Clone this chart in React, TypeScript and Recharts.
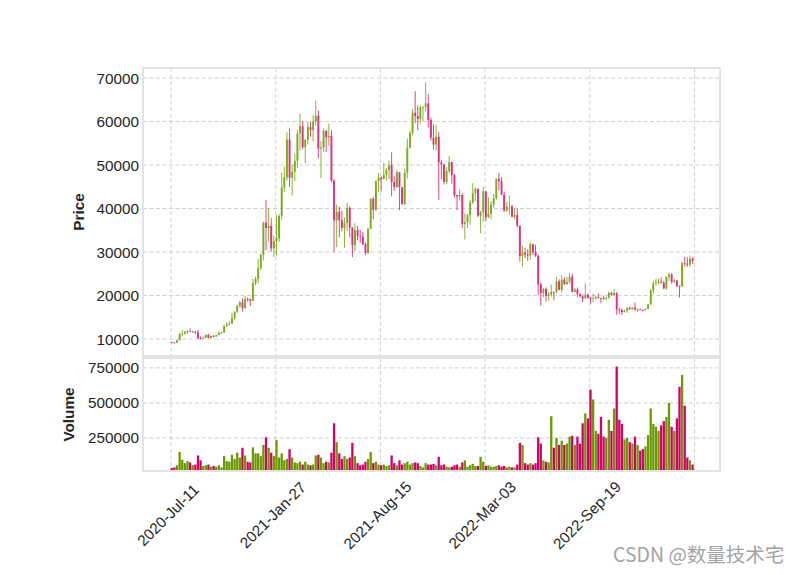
import React from 'react';
import { ComposedChart, Bar, XAxis, YAxis, CartesianGrid } from 'recharts';

// 5-day OHLCV candles of BTC, from 2020-Jul-11 (day 0) to 2023-Apr-06 (day 999)
const periodLength = 5;
const opens = [
  9230, 9195, 9160, 9710, 11110, 11190, 11680, 11770, 11750, 11750,
  11500, 10170, 10130, 10330, 10930, 10240, 10690, 10550, 10920, 11430,
  11500, 12930, 13280, 13550, 14840, 16280, 17660, 18420, 17140, 19230,
  19170, 18800, 22800, 23820, 26280, 29330, 36760, 35540, 36020, 30830,
  32500, 33110, 38290, 44840, 47180, 55840, 47070, 48440, 50970, 57220,
  58910, 54080, 55820, 58720, 58020, 60000, 61330, 53790, 54030, 57830,
  56390, 56700, 46430, 37280, 39240, 37340, 35520, 36690, 40140, 35600,
  31590, 35040, 33690, 33520, 31780, 29790, 35400, 42240, 39740, 46290,
  47100, 46760, 47710, 48810, 49940, 46080, 44960, 48310, 44880, 41030,
  48200, 53970, 57370, 62010, 61290, 60590, 63220, 63300, 64150, 60370,
  56280, 54720, 56480, 50590, 50100, 46130, 48620, 50700, 47720, 43080,
  42740, 43110, 36450, 36840, 38480, 41380, 43510, 44540, 38370, 39220,
  43920, 37990, 38810, 40920, 42360, 46820, 46280, 43170, 39530, 40380,
  40480, 38110, 38470, 36010, 29100, 29860, 29430, 29200, 31790, 29910,
  29090, 22580, 20570, 21500, 19930, 20190, 20850, 20830, 23220, 21310,
  23640, 22620, 23150, 24300, 20830, 21370, 20290, 19830, 19320, 20170,
  19420, 19290, 19410, 19630, 19420, 19380, 19330, 19570, 20600, 20150,
  20590, 16810, 16690, 16220, 16440, 17100, 16840, 17210, 16780, 16820,
  16700, 16620, 16950, 17940, 21190, 22780, 23010, 23130, 22930, 21630,
  24330, 24840, 23160, 23470, 22200, 22140, 27420, 27300, 27140, 28450,
];
const highs = [
  9350, 9230, 9760, 11420, 12120, 11900, 12080, 12480, 11880, 11800,
  12080, 10600, 10600, 11100, 11180, 10800, 10900, 10960, 11720, 11600,
  13220, 13850, 14100, 15970, 16340, 17860, 18800, 19420, 19890, 19600,
  19300, 23800, 24300, 28400, 29600, 36940, 41950, 40100, 37850, 33800,
  38500, 38700, 48200, 49700, 57500, 58350, 50200, 52640, 58150, 61800,
  60100, 55900, 59800, 60000, 61500, 64850, 62500, 55500, 58450, 58000,
  59500, 58000, 46650, 40900, 40400, 39480, 38000, 41300, 40500, 35750,
  36600, 35950, 35100, 34600, 32250, 35400, 42300, 42600, 46460, 48150,
  47380, 50500, 49350, 51000, 52920, 47400, 48850, 48400, 45000, 49200,
  56100, 57840, 62900, 67000, 63700, 63700, 63500, 69000, 66300, 60900,
  59400, 59200, 57600, 51200, 50100, 49500, 52100, 50700, 47990, 43150,
  44400, 43500, 38900, 38700, 41900, 45820, 44800, 44600, 39500, 45000,
  44100, 42600, 41700, 43350, 46900, 48190, 47200, 43900, 41550, 42980,
  40800, 40000, 40000, 36100, 31500, 31000, 30650, 32200, 31900, 31700,
  29450, 22950, 21720, 21870, 20750, 22500, 20900, 24280, 23750, 24670,
  24200, 24250, 25210, 25000, 21800, 21820, 20580, 20180, 22800, 20500,
  19700, 20380, 20000, 20470, 19500, 19950, 19700, 20850, 20850, 21480,
  20700, 17200, 17000, 16770, 17320, 17420, 17300, 18390, 17060, 16960,
  16780, 16990, 17990, 21440, 23370, 23820, 23960, 24250, 23350, 24380,
  25250, 25130, 23900, 23500, 22300, 27750, 28870, 28800, 29190, 28800,
];
const lows = [
  9120, 9050, 9150, 9700, 10600, 11100, 11150, 11680, 11380, 11120,
  10000, 9880, 10100, 10270, 10140, 10200, 10380, 10530, 10900, 11230,
  11400, 12900, 13200, 13530, 14350, 15970, 17200, 16330, 16900, 18550,
  17600, 18700, 22350, 22700, 25900, 28100, 30400, 32400, 30070, 28850,
  29240, 32300, 37350, 43730, 46400, 45000, 43000, 46300, 49300, 53270,
  53650, 50400, 54700, 56500, 55500, 59100, 51500, 47000, 53000, 53000,
  54400, 46000, 30000, 31100, 33400, 34800, 31000, 34800, 33300, 28800,
  30200, 32700, 32100, 31600, 29280, 29500, 35250, 37500, 39400, 43800,
  43950, 46700, 46400, 46700, 42800, 44100, 44700, 39600, 40800, 40800,
  46900, 53800, 56800, 59600, 58000, 59500, 60100, 62300, 58600, 55600,
  53500, 53300, 42000, 46700, 45500, 45600, 48100, 45700, 42500, 39650,
  41800, 35500, 32900, 35500, 36250, 41100, 41700, 38000, 34320, 37000,
  37150, 37850, 37550, 40200, 41900, 44200, 43100, 39200, 39250, 38550,
  38000, 37580, 35600, 27800, 26700, 28600, 28000, 28250, 29300, 28850,
  20100, 17620, 19650, 18600, 18780, 19760, 18900, 20500, 21250, 20700,
  22400, 22450, 22650, 20780, 20800, 19520, 19580, 18500, 19300, 19350,
  18130, 18470, 18950, 19300, 18190, 18980, 18900, 19250, 20050, 20050,
  15590, 15815, 15480, 16130, 16000, 16700, 16750, 16530, 16260, 16600,
  16330, 16600, 16900, 17940, 20410, 22300, 22500, 22750, 21460, 21350,
  23330, 22720, 22930, 21900, 19550, 21900, 26600, 26630, 26630, 27200,
];
const closes = [
  9195, 9160, 9710, 11110, 11190, 11680, 11770, 11750, 11750, 11500,
  10170, 10130, 10330, 10930, 10240, 10690, 10550, 10920, 11430, 11500,
  12930, 13280, 13550, 14840, 16280, 17660, 18420, 17140, 19230, 19170,
  18800, 22800, 23820, 26280, 29330, 36760, 35540, 36020, 30830, 32500,
  33110, 38290, 44840, 47180, 55840, 47070, 48440, 50970, 57220, 58910,
  54080, 55820, 58720, 58020, 60000, 61330, 53790, 54030, 57830, 56390,
  56700, 46430, 37280, 39240, 37340, 35520, 36690, 40140, 35600, 31590,
  35040, 33690, 33520, 31780, 29790, 35400, 42240, 39740, 46290, 47100,
  46760, 47710, 48810, 49940, 46080, 44960, 48310, 44880, 41030, 48200,
  53970, 57370, 62010, 61290, 60590, 63220, 63300, 64150, 60370, 56280,
  54720, 56480, 50590, 50100, 46130, 48620, 50700, 47720, 43080, 42740,
  43110, 36450, 36840, 38480, 41380, 43510, 44540, 38370, 39220, 43920,
  37990, 38810, 40920, 42360, 46820, 46280, 43170, 39530, 40380, 40480,
  38110, 38470, 36010, 29100, 29860, 29430, 29200, 31790, 29910, 29090,
  22580, 20570, 21500, 19930, 20190, 20850, 20830, 23220, 21310, 23640,
  22620, 23150, 24300, 20830, 21370, 20290, 19830, 19320, 20170, 19420,
  19290, 19410, 19630, 19420, 19380, 19330, 19570, 20600, 20150, 20590,
  16810, 16690, 16220, 16440, 17100, 16840, 17210, 16780, 16820, 16700,
  16620, 16950, 17940, 21190, 22780, 23010, 23130, 22930, 21630, 24330,
  24840, 23160, 23470, 22200, 22140, 27420, 27300, 27140, 28450, 27940,
];
const volumes = [
  35000, 40000, 55000, 150000, 95000, 70000, 85000, 75000, 55000, 60000,
  125000, 90000, 50000, 55000, 60000, 45000, 50000, 45000, 55000, 40000,
  120000, 85000, 80000, 130000, 100000, 145000, 110000, 180000, 125000, 80000,
  75000, 183000, 140000, 140000, 120000, 200000, 255000, 180000, 145000, 120000,
  235000, 110000, 140000, 90000, 100000, 170000, 110000, 75000, 70000, 80000,
  60000, 80000, 60000, 55000, 60000, 125000, 130000, 110000, 70000, 80000,
  75000, 145000, 355000, 220000, 140000, 100000, 120000, 100000, 110000, 215000,
  120000, 70000, 55000, 60000, 80000, 100000, 150000, 70000, 80000, 60000,
  55000, 60000, 50000, 55000, 125000, 70000, 55000, 90000, 60000, 70000,
  80000, 60000, 70000, 75000, 70000, 50000, 40000, 70000, 60000, 60000,
  65000, 55000, 115000, 55000, 60000, 45000, 40000, 45000, 55000, 60000,
  45000, 75000, 90000, 45000, 55000, 65000, 50000, 50000, 115000, 80000,
  50000, 55000, 45000, 45000, 50000, 55000, 45000, 50000, 40000, 45000,
  40000, 40000, 60000, 215000, 200000, 70000, 60000, 70000, 60000, 70000,
  255000, 210000, 90000, 80000, 75000, 405000, 180000, 250000, 200000, 230000,
  200000, 210000, 260000, 265000, 200000, 260000, 210000, 355000, 425000, 390000,
  595000, 525000, 300000, 280000, 400000, 260000, 250000, 380000, 300000, 460000,
  760000, 380000, 350000, 240000, 250000, 220000, 210000, 260000, 200000, 160000,
  170000, 190000, 270000, 460000, 350000, 330000, 300000, 340000, 370000, 400000,
  500000, 330000, 300000, 390000, 615000, 700000, 480000, 110000, 90000, 60000,
];

const xTickValues = [0, 200, 400, 600, 800, 1000];
const xTickLabels = ['2020-Jul-11', '2021-Jan-27', '2021-Aug-15', '2022-Mar-03', '2022-Sep-19', ''];
const priceTicks = [10000, 20000, 30000, 40000, 50000, 60000, 70000];
const volumeTicks = [250000, 500000, 750000];

const priceDomain = [6100, 72300];
const volumeDomain = [14000, 821000];
const xDomain = [-53.6, 1048.8];

const UP = '#6a9a00';
const DOWN = '#d4006a';
const UP_CANDLE = '#7cab1c';
const DOWN_CANDLE = '#e0307f';
const FONT = '"Liberation Sans", Arial, sans-serif';

const data = closes.map((c, i) => ({
  x: i * periodLength + (periodLength - 1) / 2,
  open: opens[i],
  high: highs[i],
  low: lows[i],
  close: c,
  range: [lows[i], highs[i]],
  volume: volumes[i],
}));

const W = 800;
const H = 575;
const plotLeft = 143;
const plotRight = 720;
const priceTop = 68;
const priceBottom = 356;
const volTop = 358;
const volBottom = 471;
const yAxisW = 60;
const xAxisH = 100;

const Candle = (props: any) => {
  const { x, y, width, height } = props;
  const p = props.payload || props;
  const { open, close, high, low } = p;
  const top = Math.min(y, y + height);
  const h = Math.abs(height);
  const py = (v: number) => top + ((high - v) / (high - low || 1)) * h;
  const up = close >= open;
  const color = up ? UP_CANDLE : DOWN_CANDLE;
  const cx = x + width / 2;
  const bTop = py(Math.max(open, close));
  const bBot = py(Math.min(open, close));
  return (
    <g>
      <line x1={cx} x2={cx} y1={top} y2={top + h} stroke={color} strokeWidth={0.9} />
      <rect x={cx - 0.95} y={bTop} width={1.9} height={Math.max(bBot - bTop, 0.8)} fill={color} />
    </g>
  );
};

const VolBar = (props: any) => {
  const { x, y, width, height } = props;
  const p = props.payload || props;
  const color = p.close >= p.open ? UP : DOWN;
  const cx = x + width / 2;
  const top = Math.min(y, y + height);
  return <rect x={cx - 1.15} y={top} width={2.3} height={Math.abs(height)} fill={color} />;
};

const YTick = (props: any) => {
  const { x, y, payload } = props;
  return (
    <text x={x} y={y} textAnchor="end" dominantBaseline="central" fontSize={15.3} fontFamily={FONT} fill="#262626">
      {payload.value}
    </text>
  );
};

const XTick = (props: any) => {
  const { x, payload } = props;
  const idx = xTickValues.indexOf(payload.value);
  const label = idx >= 0 ? xTickLabels[idx] : '';
  return (
    <text
      transform={`translate(${x - 3}, ${volBottom + 44}) rotate(-45)`}
      textAnchor="middle"
      dominantBaseline="central"
      fontSize={15.3}
      fontFamily={FONT}
      fill="#262626"
    >
      {label}
    </text>
  );
};

const gridStroke = '#cfcfcf';
const gridDash = '4 2.5';

export default function App() {
  return (
    <div style={{ position: 'absolute', left: 0, top: 0, width: W, height: H, background: '#fff', overflow: 'hidden' }}>
      <div style={{ position: 'absolute', left: 0, top: 0 }}>
        <ComposedChart
          width={W}
          height={H}
          data={data}
          margin={{ top: priceTop, right: W - plotRight, bottom: H - priceBottom, left: plotLeft - yAxisW }}
        >
          <CartesianGrid stroke={gridStroke} strokeDasharray={gridDash} />
          <XAxis
            type="number"
            dataKey="x"
            domain={xDomain}
            ticks={xTickValues}
            allowDataOverflow
            hide
          />
          <YAxis
            domain={priceDomain}
            ticks={priceTicks}
            allowDataOverflow
            width={yAxisW}
            axisLine={false}
            tickLine={false}
            tickSize={0}
            tickMargin={4}
            tick={<YTick />}
          />
          <Bar dataKey="range" barSize={2} shape={<Candle />} isAnimationActive={false} />
        </ComposedChart>
      </div>
      <div style={{ position: 'absolute', left: 0, top: 0 }}>
        <ComposedChart
          width={W}
          height={H}
          data={data}
          margin={{ top: volTop, right: W - plotRight, bottom: H - volBottom - xAxisH, left: plotLeft - yAxisW }}
        >
          <CartesianGrid stroke={gridStroke} strokeDasharray={gridDash} />
          <XAxis
            type="number"
            dataKey="x"
            domain={xDomain}
            ticks={xTickValues}
            allowDataOverflow
            height={xAxisH}
            axisLine={false}
            tickLine={false}
            interval={0}
            tick={<XTick />}
          />
          <YAxis
            domain={volumeDomain}
            ticks={volumeTicks}
            allowDataOverflow
            width={yAxisW}
            axisLine={false}
            tickLine={false}
            tickSize={0}
            tickMargin={4}
            tick={<YTick />}
          />
          <Bar dataKey="volume" barSize={2} shape={<VolBar />} isAnimationActive={false} />
        </ComposedChart>
      </div>
      <svg width={W} height={H} style={{ position: 'absolute', left: 0, top: 0, pointerEvents: 'none' }}>
        <rect x={plotLeft} y={priceTop} width={plotRight - plotLeft} height={priceBottom - priceTop} fill="none" stroke="#e3e3e3" strokeWidth={2} />
        <rect x={plotLeft} y={volTop} width={plotRight - plotLeft} height={volBottom - volTop} fill="none" stroke="#e3e3e3" strokeWidth={2} />
        <text
          transform={`translate(78, ${(priceTop + priceBottom) / 2}) rotate(-90)`}
          textAnchor="middle"
          dominantBaseline="central"
          fontSize={15.3}
          fontWeight="bold"
          fontFamily={FONT}
          fill="#262626"
        >
          Price
        </text>
        <text
          transform={`translate(68, ${(volTop + volBottom) / 2}) rotate(-90)`}
          textAnchor="middle"
          dominantBaseline="central"
          fontSize={15.3}
          fontWeight="bold"
          fontFamily={FONT}
          fill="#262626"
        >
          Volume
        </text>
        <text x={613} y={562} fontSize={19.5} fontFamily='"Noto Sans CJK SC", "Liberation Sans", sans-serif' fill="#a3a3a3">
          CSDN @数量技术宅
        </text>
      </svg>
    </div>
  );
}
